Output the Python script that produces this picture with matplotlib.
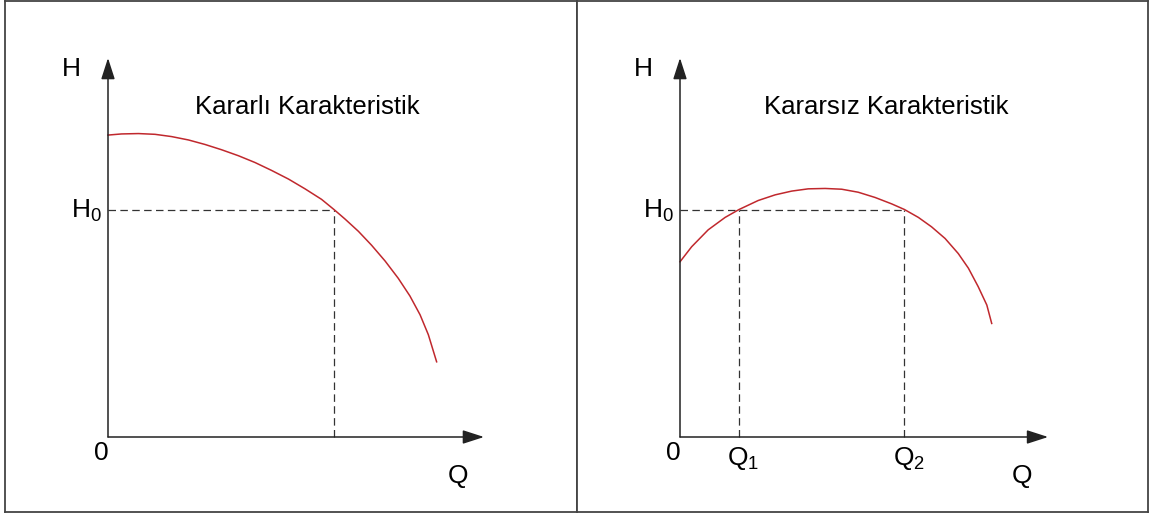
import matplotlib.pyplot as plt

plt.rcParams["font.family"] = ["Liberation Sans", "DejaVu Sans"]
plt.rcParams["mathtext.fontset"] = "custom"
plt.rcParams["mathtext.rm"] = "Liberation Sans"

# Stable pump curve: head H against flow Q
stable_q = [0.0, 0.36, 0.81, 1.25, 1.69, 2.14, 2.58, 3.02, 3.47, 3.91, 4.35,
            4.80, 5.24, 5.68, 6.01, 6.30, 6.66, 7.01, 7.37, 7.72, 8.03, 8.30,
            8.52, 8.74]
stable_h = [8.03, 8.06, 8.07, 8.05, 7.99, 7.90, 7.78, 7.64, 7.48, 7.30, 7.09,
            6.86, 6.60, 6.32, 6.05, 5.80, 5.47, 5.10, 4.68, 4.22, 3.75, 3.25,
            2.72, 2.00]
stable_q0 = 6.01

# Unstable pump curve: head rises, peaks, then falls
unstable_q = [0.0, 0.31, 0.75, 1.20, 1.57, 2.08, 2.53, 2.97, 3.41, 3.86, 4.30,
              4.74, 5.19, 5.63, 5.97, 6.34, 6.69, 7.05, 7.40, 7.67, 7.93, 8.16,
              8.29]
unstable_h = [4.66, 5.06, 5.51, 5.84, 6.05, 6.29, 6.44, 6.54, 6.60, 6.61, 6.59,
              6.51, 6.37, 6.20, 6.05, 5.84, 5.59, 5.28, 4.88, 4.49, 4.00, 3.51,
              3.02]
unstable_q1 = 1.57
unstable_q2 = 5.97

h0 = 6.05

titles = ["Kararlı Karakteristik", "Kararsız Karakteristik"]
q_axis_len = [10.0, 9.79]
h_axis_len = 10.08

curve_color = "#c0282d"
axis_color = "#222222"
dash_color = "#333333"


def draw_axes(ax, q_end):
    arrow = dict(arrowstyle="-|>,head_length=1.3,head_width=0.42",
                 mutation_scale=10, lw=1.1, color=axis_color,
                 shrinkA=0, shrinkB=0)
    ax.annotate("", xy=(q_end, 0), xytext=(0, 0), arrowprops=arrow)
    ax.annotate("", xy=(0, h_axis_len), xytext=(0, 0), arrowprops=arrow)


def guide(ax, xs, ys):
    ax.plot(xs, ys, color=dash_color, lw=0.9, dashes=(6, 3.5))


fig = plt.figure(figsize=(11.52, 5.15), dpi=100)
W, Hpx = 1152, 515
scale = 37.6
panels = [(5, 577, 108), (577, 1148, 680)]
axes = []
for x0, x1, ox in panels:
    ax = fig.add_axes([x0 / W, (Hpx - 512) / Hpx, (x1 - x0) / W, 511 / Hpx])
    ax.set_xlim((x0 - ox) / scale, (x1 - ox) / scale)
    ax.set_ylim((437 - 512) / scale, (437 - 1) / scale)
    ax.set_xticks([])
    ax.set_yticks([])
    for s in ax.spines.values():
        s.set_color("#444444")
        s.set_linewidth(1.3)
    axes.append(ax)

fs_label = 19
fs_title = 18.5

# Left: stable characteristic
ax = axes[0]
guide(ax, [0, stable_q0], [h0, h0])
guide(ax, [stable_q0, stable_q0], [0, h0])
ax.plot(stable_q, stable_h, color=curve_color, lw=1.1)
draw_axes(ax, q_axis_len[0])
ax.text(2.31, 8.78, titles[0], fontsize=fs_title, ha="left", va="center")

# Right: unstable characteristic
ax = axes[1]
guide(ax, [0, unstable_q2], [h0, h0])
guide(ax, [unstable_q1, unstable_q1], [0, h0])
guide(ax, [unstable_q2, unstable_q2], [0, h0])
ax.plot(unstable_q, unstable_h, color=curve_color, lw=1.1)
draw_axes(ax, q_axis_len[1])
ax.text(2.23, 8.78, titles[1], fontsize=fs_title, ha="left", va="center")
ax.text(unstable_q1 + 0.12, -0.2, r"$\mathregular{Q_1}$", fontsize=fs_label, ha="center", va="top")
ax.text(unstable_q2 + 0.12, -0.2, r"$\mathregular{Q_2}$", fontsize=fs_label, ha="center", va="top")

# Shared axis labels
for ax, q_lab in zip(axes, [9.31, 9.10]):
    ax.text(-0.98, 9.79, "H", fontsize=fs_label, ha="center", va="center")
    ax.text(-0.17, h0 - 0.05, r"$\mathregular{H_0}$", fontsize=fs_label, ha="right", va="center")
    ax.text(-0.17, -0.43, "0", fontsize=fs_label, ha="center", va="center")
    ax.text(q_lab, -1.04, "Q", fontsize=fs_label, ha="center", va="center")

fig.savefig("out.png", dpi=100)
